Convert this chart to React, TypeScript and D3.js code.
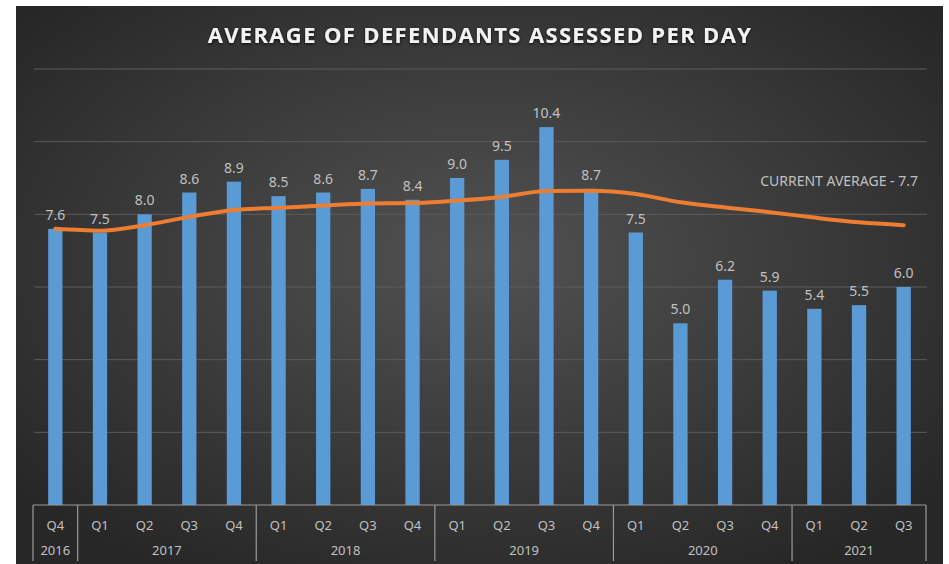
import React from "react";
import * as d3 from "d3";

const quarters = ["Q4","Q1","Q2","Q3","Q4","Q1","Q2","Q3","Q4","Q1","Q2","Q3","Q4","Q1","Q2","Q3","Q4","Q1","Q2","Q3"];
const years = ["2016","2017","2018","2019","2020","2021"];
const yearSpans = [1, 4, 4, 4, 4, 3];
const assessed = [7.6,7.5,8.0,8.6,8.9,8.5,8.6,8.7,8.4,9.0,9.5,10.4,8.7,7.5,5.0,6.2,5.9,5.4,5.5,6.0];
const runningAvg = [7.6,7.55,7.7,7.93,8.12,8.18,8.24,8.3,8.31,8.38,8.48,8.64,8.65,8.56,8.33,8.19,8.06,7.91,7.78,7.7];
const yTicks = [0,2,4,6,8,10,12];
const title = "AVERAGE OF DEFENDANTS ASSESSED PER DAY";
const avgLabel = "CURRENT AVERAGE - 7.7";

const W = 949, H = 564;
const plotL = 33, plotR = 926, plotT = 69, plotB = 505;
const font = "'Noto Sans', 'DejaVu Sans', sans-serif";

export default function App() {
  const idx = assessed.map((_, i) => i);
  const x = d3.scaleBand<number>().domain(idx).range([plotL, plotR]).paddingInner(0.68).paddingOuter(0.34);
  const y = d3.scaleLinear().domain([0, 12]).range([plotB, plotT]);
  const cx = (i: number) => (x(i) as number) + x.bandwidth() / 2;
  const line = d3.line<number>().x((_, i) => cx(i)).y(d => y(d)).curve(d3.curveMonotoneX);
  const step = x.step();
  const bounds: number[] = [0];
  yearSpans.forEach(s => bounds.push(bounds[bounds.length - 1] + s));
  const edge = (k: number) => plotL + step * k;

  return (
    <svg width={W} height={H} style={{ position: "absolute", left: 0, top: 0, display: "block" }}>
      <defs>
        <radialGradient id="bg" cx="50%" cy="45%" r="65%">
          <stop offset="0%" stopColor="#525252" />
          <stop offset="100%" stopColor="#272727" />
        </radialGradient>
        <filter id="glow" x="-5%" y="-50%" width="110%" height="200%">
          <feGaussianBlur in="SourceAlpha" stdDeviation="1.5" />
          <feOffset dx="0" dy="1" result="b" />
          <feComponentTransfer><feFuncA type="linear" slope="0.8" /></feComponentTransfer>
          <feMerge><feMergeNode /><feMergeNode in="SourceGraphic" /></feMerge>
        </filter>
      </defs>
      <rect x={0} y={0} width={W} height={H} fill="#ffffff" />
      <rect x={16} y={6} width={927} height={H - 6} fill="url(#bg)" />
      <text x={480} y={43} textAnchor="middle" fill="#f2f2f2" fontFamily="'Open Sans', sans-serif" fontWeight={700} fontSize={22} letterSpacing={1.35} filter="url(#glow)">{title}</text>
      {yTicks.filter(t => t > 0).map(t => (
        <line key={t} x1={plotL + 1} x2={plotR + 1} y1={y(t)} y2={y(t)} stroke="#5c5c5c" strokeWidth={1} />
      ))}
      {assessed.map((v, i) => (
        <rect key={i} x={x(i)} y={y(v)} width={x.bandwidth()} height={plotB - y(v)} fill="#5b9bd5" />
      ))}
      {assessed.map((v, i) => (
        <text key={"l" + i} x={cx(i)} y={y(v) - 9} textAnchor="middle" fill="#c0c0c0" fontFamily={font} fontSize={14}>{v.toFixed(1)}</text>
      ))}
      <path d={line(runningAvg) || ""} fill="none" stroke="#ed7d31" strokeWidth={4} strokeLinecap="round" strokeLinejoin="round" />
      <text x={918} y={186} textAnchor="end" fill="#c0c0c0" fontFamily={font} fontSize={14}>{avgLabel}</text>
      <line x1={plotL} x2={plotR} y1={plotB} y2={plotB} stroke="#9a9a9a" strokeWidth={1.2} />
      {bounds.map((k, i) => (
        <line key={"s" + i} x1={edge(k)} x2={edge(k)} y1={plotB} y2={561} stroke="#9a9a9a" strokeWidth={1.2} />
      ))}
      {quarters.map((q, i) => (
        <text key={"q" + i} x={cx(i)} y={530} textAnchor="middle" fill="#c0c0c0" fontFamily={font} fontSize={13}>{q}</text>
      ))}
      {years.map((yr, i) => (
        <text key={"y" + i} x={(edge(bounds[i]) + edge(bounds[i + 1])) / 2} y={555} textAnchor="middle" fill="#c0c0c0" fontFamily={font} fontSize={13}>{yr}</text>
      ))}
    </svg>
  );
}
